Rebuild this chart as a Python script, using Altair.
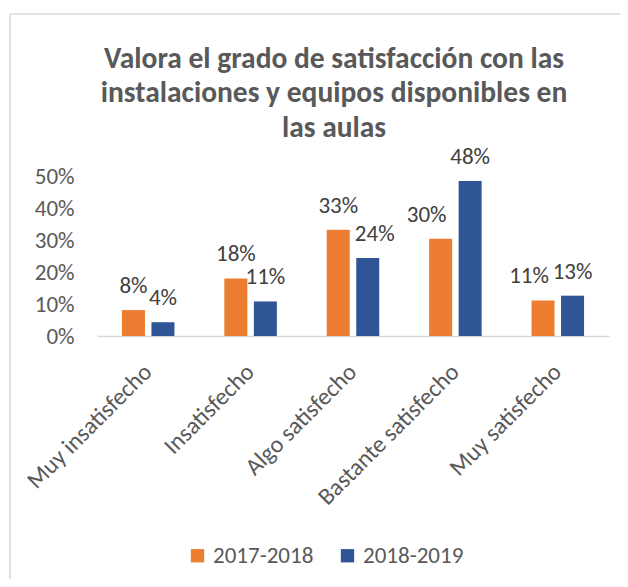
import altair as alt
import pandas as pd

categories = ["Muy insatisfecho", "Insatisfecho", "Algo satisfecho", "Bastante satisfecho", "Muy satisfecho"]
series = ["2017-2018", "2018-2019"]
values_2017 = [0.081, 0.180, 0.332, 0.304, 0.111]
values_2018 = [0.043, 0.108, 0.244, 0.484, 0.126]
y_ticks = [0, 0.1, 0.2, 0.3, 0.4, 0.5]
title_lines = ["Valora el grado de satisfacción con las",
               "instalaciones y equipos disponibles en",
               "las aulas"]
colors = ["#ED7D31", "#2F5597"]

rows = []
for c, a, b in zip(categories, values_2017, values_2018):
    rows.append({"cat": c, "serie": series[0], "val": a})
    rows.append({"cat": c, "serie": series[1], "val": b})
df = pd.DataFrame(rows)

FONT = "Carlito, Lato, sans-serif"

x_axis = alt.Axis(labelAngle=-45, labelAlign="right", labelBaseline="middle",
                  labelFontSize=24, labelColor="#595959", labelFont=FONT,
                  labelPadding=32, ticks=False, domainColor="#D9D9D9",
                  domainWidth=1.5, labelLimit=400, labelOverlap=False)
y_axis = alt.Axis(values=y_ticks, format=".0%", grid=False, domain=False,
                  ticks=False, labelFontSize=23, labelColor="#595959",
                  labelFont=FONT, labelPadding=23, labelOverlap=False,
                  labelFlush=False)
x_scale = alt.Scale(paddingInner=0, paddingOuter=0)
y_scale = alt.Scale(domain=[0, 0.5], nice=False)
off_scale = alt.Scale(paddingInner=0.22, paddingOuter=0.846)

x_enc = alt.X("cat:N", sort=categories, title=None, scale=x_scale, axis=x_axis)
xoff = alt.XOffset("serie:N", sort=series, scale=off_scale)
y_enc = alt.Y("val:Q", title=None, scale=y_scale, axis=y_axis)
color_enc = alt.Color("serie:N", sort=series,
                      scale=alt.Scale(domain=series, range=colors),
                      legend=alt.Legend(title=None, orient="none", legendX=89, legendY=368,
                                        direction="horizontal", symbolType="square",
                                        symbolSize=178, symbolStrokeWidth=0,
                                        labelFontSize=23, labelColor="#595959",
                                        labelFont=FONT, columnPadding=22,
                                        labelOffset=4, padding=0))

base = alt.Chart(df)

# light sheet border lines
frame_h = alt.Chart(pd.DataFrame({"k": [0]})).mark_rule(color="#D9D9D9", strokeWidth=1.5).encode(
    x=alt.value(-87), x2=alt.value(530), y=alt.value(-162))
frame_v = alt.Chart(pd.DataFrame({"k": [0]})).mark_rule(color="#D9D9D9", strokeWidth=1.5).encode(
    x=alt.value(-87), y=alt.value(-162), y2=alt.value(420))

bars = base.mark_bar().encode(x=x_enc, xOffset=xoff, y=y_enc, color=color_enc)

tt = alt.Text("val:Q", format=".0%")
txt_kwargs = dict(baseline="alphabetic", dy=-17, fontSize=23, color="#404040", font=FONT)
text_center = base.mark_text(**txt_kwargs).encode(x=x_enc, xOffset=xoff, y=y_enc, text=tt).transform_filter(
    "!((datum.cat == 'Bastante satisfecho' || datum.cat == 'Muy satisfecho') && datum.serie == '2017-2018') && !(datum.cat == 'Algo satisfecho' && datum.serie == '2018-2019')"
)
text_left = base.mark_text(**{**txt_kwargs, "dx": -14}).encode(x=x_enc, xOffset=xoff, y=y_enc, text=tt).transform_filter(
    "(datum.cat == 'Bastante satisfecho' || datum.cat == 'Muy satisfecho') && datum.serie == '2017-2018'"
)
text_right = base.mark_text(**{**txt_kwargs, "dx": 7}).encode(x=x_enc, xOffset=xoff, y=y_enc, text=tt).transform_filter(
    "datum.cat == 'Algo satisfecho' && datum.serie == '2018-2019'"
)

chart = alt.layer(frame_h, frame_v, bars, text_center, text_left, text_right).properties(
    width=512, height=160,
    autosize=alt.AutoSizeParams(type="none"),
    padding={"left": 89, "top": 168, "right": 11, "bottom": 243},
    title=alt.TitleParams(text=title_lines, fontSize=29.5, fontWeight="bold", color="#595959",
                          font=FONT, anchor="middle", frame="group", dx=-19,
                          baseline="top", lineHeight=34.5, offset=-130),
).configure_view(stroke=None)

chart.save("out.html", embed_options={"renderer": "svg", "actions": False})
